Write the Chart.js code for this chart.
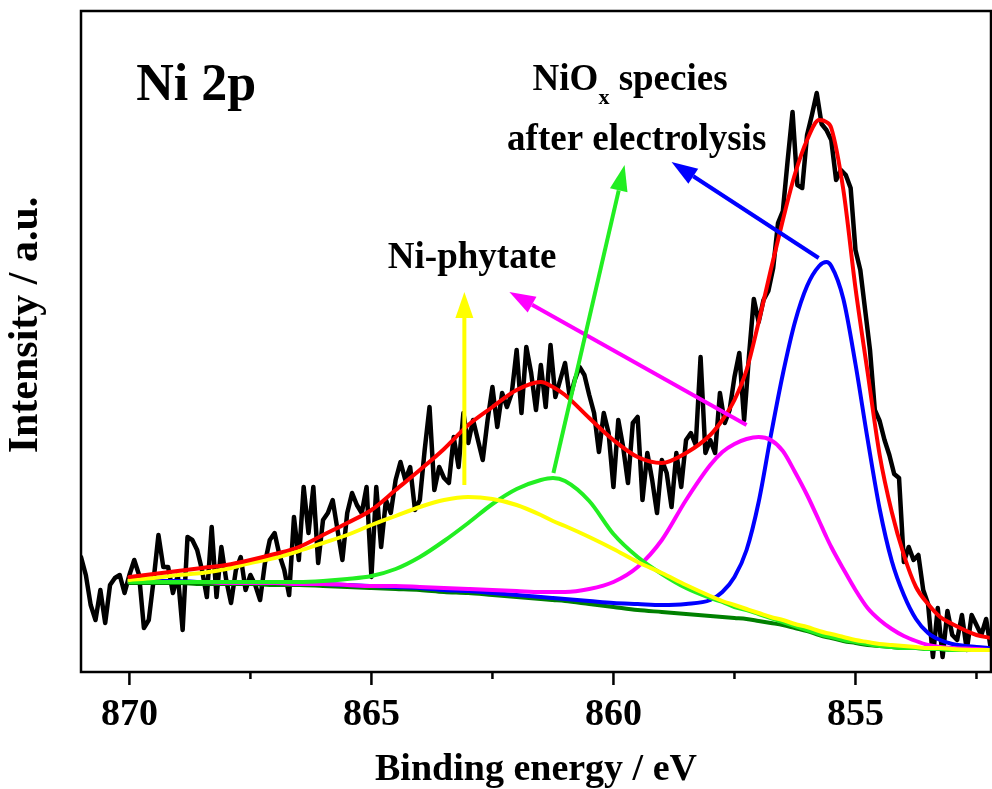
<!DOCTYPE html>
<html>
<head>
<meta charset="utf-8">
<script src="https://cdn.jsdelivr.net/npm/chart.js@4.4.0/dist/chart.umd.min.js"></script>
<style>
  html, body { margin: 0; padding: 0; background: #fff; }
  #wrap { width: 992px; height: 789px; }
</style>
</head>
<body>
<div id="wrap"><canvas id="xps" width="992" height="789"></canvas></div>
<script>
// measured Ni 2p spectrum, 0.1 eV steps from 871.0 eV down to 852.2 eV
const rawStart = 871.0;
const rawStep = 0.1;
const rawCounts = [
  115, 97, 67, 52, 82, 49, 87, 94, 97, 79,
  97, 112, 97, 44, 52, 92, 137, 105, 105, 79,
  97, 42, 135, 132, 122, 102, 75, 145, 75, 125,
  92, 69, 102, 115, 82, 97, 87, 72, 109, 132,
  139, 117, 102, 77, 155, 112, 185, 139, 185, 109,
  152, 159, 172, 142, 112, 159, 179, 167, 159, 185,
  95, 185, 125, 172, 159, 192, 210, 192, 205, 162,
  172, 222, 265, 182, 205, 194, 189, 235, 205, 259,
  229, 252, 232, 212, 252, 285, 245, 279, 265, 279,
  322, 259, 325, 299, 262, 307, 265, 327, 275, 292,
  309, 274, 292, 305, 297, 277, 259, 220, 259, 239,
  185, 252, 225, 189, 249, 255, 172, 219, 192, 159,
  212, 199, 165, 219, 185, 232, 239, 227, 315, 219,
  232, 219, 279, 249, 262, 295, 319, 252, 316, 373,
  350, 372, 381, 404, 449, 461, 512, 560, 487, 484,
  537, 557, 579, 548, 542, 532, 492, 502, 497, 484,
  422, 402, 362, 322, 262, 251, 232, 217, 198, 194,
  110, 125, 112, 117, 82, 68, 15, 64, 15, 61,
  37, 32, 57, 22, 57, 47, 37, 53, 22
];

// peak fit, sampled on the energies below
const fitEnergy = [
  870, 869.5, 869, 868.5, 868, 867.5, 867, 866.5, 866, 865.5, 865, 864.5, 864,
  863.5, 863, 862.5, 862, 861.5, 861.25, 861, 860.5, 860, 859.5, 859, 858.5, 858,
  857.75, 857.5, 857.25, 857, 856.75, 856.5, 856.25, 856, 855.75, 855.6, 855.5, 855.25,
  855, 854.75, 854.5, 854.25, 854, 853.75, 853.5, 853.25, 853, 852.5, 852.2
];
const fitEnvelope = [
  95, 98, 101, 104, 107, 112, 118, 125, 137, 149, 162, 182, 202,
  223, 247, 265, 282, 290, 285, 277, 254, 232, 215, 209, 219, 237,
  252, 272, 302, 350, 402, 452, 498, 532, 552, 550, 544, 482,
  384, 300, 217, 160, 117, 85, 68, 55, 48, 37, 34
];
const fitPhytateSat = [   // yellow
  92, 94, 97, 99, 103, 109, 114, 121, 129, 137, 147, 156, 165,
  172, 175, 173, 167, 157, 151, 146, 135, 123, 110, 99, 87, 76,
  71, 67, 63, 59, 55, 52, 48, 45, 41, 39, 38, 35,
  32, 30, 28, 27, 26, 25, 24, 24, 23, 22, 22
];
const fitPhytateMain = [  // magenta
  90, 90, 90, 90, 89, 89, 89, 88, 88, 87, 86, 86, 85,
  84, 83, 82, 81, 80, 80, 80, 83, 90, 105, 132, 172, 207,
  220, 228, 233, 235, 232, 221, 200, 177, 151, 135, 125, 103,
  82, 64, 52, 43, 36, 31, 27, 25, 24, 23, 22
];
const fitOxideSat = [     // green
  90, 90, 90, 90, 90, 90, 90, 90, 91, 93, 96, 103, 115,
  131, 149, 168, 183, 192, 194, 191, 171, 138, 115, 98, 84, 74,
  70, 65, 62, 58, 54, 50, 46, 42, 38, 36, 35, 32,
  30, 28, 26, 25, 24, 24, 23, 23, 22, 22, 22
];
const fitOxideMain = [    // blue
  91, 91, 91, 90, 90, 90, 89, 89, 88, 87, 86, 85, 84,
  82, 81, 79, 77, 75, 74, 73, 71, 69, 68, 67, 68, 72,
  80, 95, 122, 170, 236, 298, 350, 386, 406, 410, 406, 373,
  308, 233, 163, 111, 77, 53, 39, 32, 28, 25, 24
];
const fitBackground = [   // Shirley background
  89, 89, 89, 88, 88, 88, 87, 87, 86, 85, 84, 83, 82,
  80, 79, 77, 75, 73, 72, 71, 68, 65, 62, 60, 58, 56,
  55, 54, 53, 51, 49, 47, 44, 41, 37, 35, 34, 31,
  29, 27, 26, 25, 24, 24, 23, 23, 22, 22, 22
];

const xTicks = [870, 865, 860, 855];
const xMinorTicks = [867.5, 862.5, 857.5, 852.5];

// annotation arrows, [energy, intensity]
const arrows = [
  { from: [863.08, 187], to: [863.08, 380], color: '#ffff00' },
  { from: [857.25, 247], to: [862.15, 380], color: '#ff00ff' },
  { from: [861.24, 199], to: [859.77, 507], color: '#22ee22' },
  { from: [855.76, 414], to: [858.80, 510], color: '#0000ff' }
];

const serif = '"Liberation Serif", "Times New Roman", serif';

const pts = (xs, ys) => ys.map((v, i) => ({ x: xs[i], y: v }));
const rawEnergy = rawCounts.map((_, i) => +(rawStart - i * rawStep).toFixed(2));

function line(label, xs, ys, color, width, smooth) {
  return {
    label: label,
    data: pts(xs, ys),
    borderColor: color,
    borderWidth: width,
    pointRadius: 0,
    cubicInterpolationMode: smooth ? 'monotone' : 'default',
    tension: 0,
    borderJoinStyle: 'round',
    borderCapStyle: 'round',
    fill: false
  };
}

function drawArrow(ctx, x1, y1, x2, y2, color) {
  const ang = Math.atan2(y2 - y1, x2 - x1);
  const head = 26, half = 9;
  const bx = x2 - head * Math.cos(ang);
  const by = y2 - head * Math.sin(ang);
  ctx.strokeStyle = color;
  ctx.fillStyle = color;
  ctx.lineWidth = 4;
  ctx.beginPath();
  ctx.moveTo(x1, y1);
  ctx.lineTo(bx, by);
  ctx.stroke();
  ctx.beginPath();
  ctx.moveTo(x2, y2);
  ctx.lineTo(bx + half * Math.sin(ang), by - half * Math.cos(ang));
  ctx.lineTo(bx - half * Math.sin(ang), by + half * Math.cos(ang));
  ctx.closePath();
  ctx.fill();
}

const decorations = {
  id: 'decorations',
  afterDatasetsDraw(chart) {
    const { ctx, scales: { x, y } } = chart;
    ctx.save();
    arrows.forEach(a => {
      drawArrow(ctx,
        x.getPixelForValue(a.from[0]), y.getPixelForValue(a.from[1]),
        x.getPixelForValue(a.to[0]), y.getPixelForValue(a.to[1]), a.color);
    });
    ctx.restore();
  },
  afterDraw(chart) {
    const { ctx, chartArea: ca, scales: { x, y } } = chart;
    ctx.save();

    // frame
    ctx.strokeStyle = '#000';
    ctx.lineWidth = 2.5;
    ctx.strokeRect(ca.left, ca.top, ca.right - ca.left, ca.bottom - ca.top);

    // tick marks, outward
    ctx.beginPath();
    xTicks.forEach(v => {
      const px = x.getPixelForValue(v);
      ctx.moveTo(px, ca.bottom);
      ctx.lineTo(px, ca.bottom + 13);
    });
    xMinorTicks.forEach(v => {
      const px = x.getPixelForValue(v);
      ctx.moveTo(px, ca.bottom);
      ctx.lineTo(px, ca.bottom + 7);
    });
    ctx.stroke();

    ctx.fillStyle = '#000';
    ctx.textBaseline = 'alphabetic';

    // y axis title
    ctx.save();
    ctx.translate(37, 325);
    ctx.rotate(-Math.PI / 2);
    ctx.font = 'bold 42px ' + serif;
    ctx.textAlign = 'center';
    ctx.fillText('Intensity / a.u.', 0, 0);
    ctx.restore();

    // labels
    ctx.font = 'bold 52px ' + serif;
    ctx.textAlign = 'left';
    ctx.fillText('Ni 2p', x.getPixelForValue(869.86), y.getPixelForValue(572));

    ctx.font = 'bold 37px ' + serif;
    ctx.textAlign = 'center';
    ctx.fillText('Ni-phytate', x.getPixelForValue(862.92), y.getPixelForValue(404));
    ctx.fillText('after electrolysis', x.getPixelForValue(859.52), y.getPixelForValue(522));

    let lx = x.getPixelForValue(861.67);
    const ly = y.getPixelForValue(582);
    ctx.textAlign = 'left';
    ctx.fillText('NiO', lx, ly);
    lx += ctx.measureText('NiO').width;
    ctx.font = 'bold 22px ' + serif;
    ctx.fillText('x', lx, ly + 14);
    lx += ctx.measureText('x').width;
    ctx.font = 'bold 37px ' + serif;
    ctx.fillText(' species', lx, ly);

    ctx.restore();
  }
};

new Chart(document.getElementById('xps'), {
  type: 'line',
  data: {
    datasets: [
      line('Envelope', fitEnergy, fitEnvelope, '#ff0000', 4, true),
      line('Ni-phytate satellite', fitEnergy, fitPhytateSat, '#ffff00', 4, true),
      line('NiOx satellite', fitEnergy, fitOxideSat, '#22ee22', 4, true),
      line('Ni-phytate', fitEnergy, fitPhytateMain, '#ff00ff', 4, true),
      line('NiOx', fitEnergy, fitOxideMain, '#0000ff', 4, true),
      line('Background', fitEnergy, fitBackground, '#008000', 4, true),
      line('Measured', rawEnergy, rawCounts, '#000000', 4.5, false)
    ]
  },
  options: {
    responsive: false,
    animation: false,
    layout: { padding: { left: 81, top: 11, right: 1, bottom: 0 } },
    plugins: {
      legend: { display: false },
      tooltip: { enabled: false }
    },
    scales: {
      x: {
        type: 'linear',
        reverse: true,
        min: 852.2,
        max: 871,
        afterBuildTicks: s => { s.ticks = xTicks.map(v => ({ value: v })); },
        afterFit: s => { s.height = 117; },
        grid: { display: false, drawTicks: false },
        border: { display: false },
        ticks: {
          color: '#000',
          padding: 20,
          maxRotation: 0,
          autoSkip: false,
          font: { family: serif, weight: 'bold', size: 38 },
          callback: v => String(v)
        },
        title: {
          display: true,
          text: 'Binding energy / eV',
          color: '#000',
          padding: 0,
          font: { family: serif, weight: 'bold', size: 38, lineHeight: 1 }
        }
      },
      y: {
        display: false,
        min: 0,
        max: 661
      }
    }
  },
  plugins: [decorations]
});
</script>
</body>
</html>
